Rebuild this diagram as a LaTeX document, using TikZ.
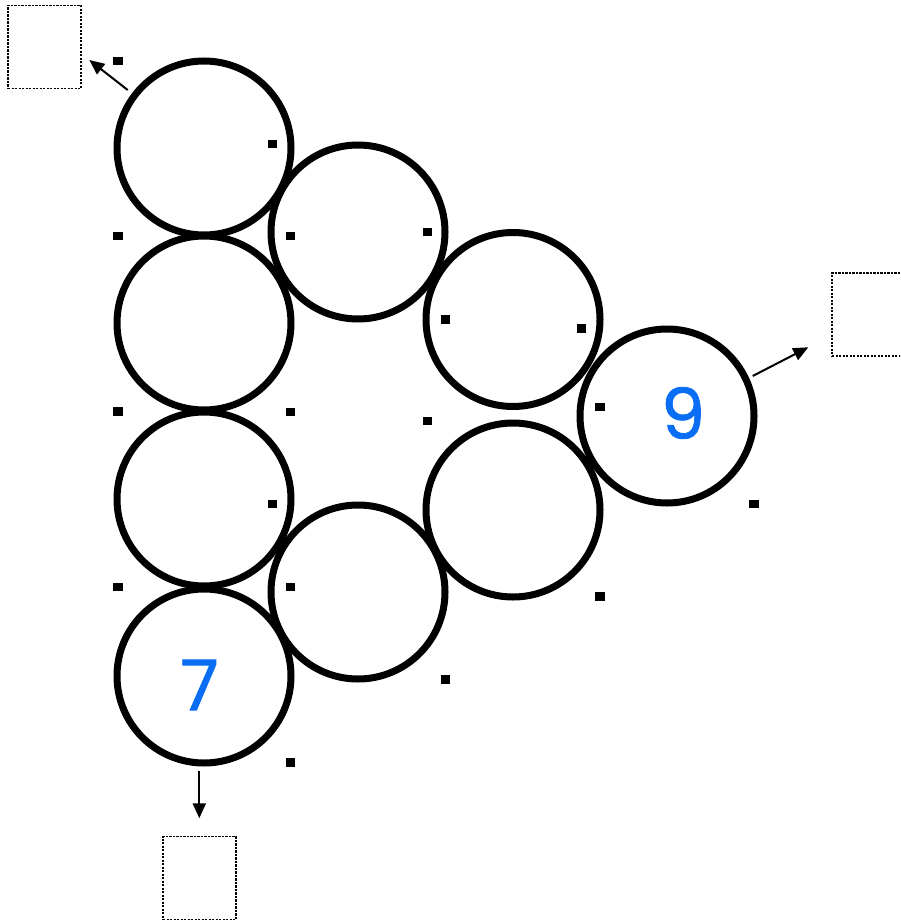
\documentclass[tikz,border=0pt]{standalone}
\usepackage{fontspec}
\newfontfamily\digitfont[FakeBold=1.2]{Poppins}
\usetikzlibrary{arrows.meta}
\definecolor{digitblue}{RGB}{10,110,245}
\begin{document}
\begin{tikzpicture}[x=1pt,y=-1pt,
  ring/.style={circle,draw,line width=7pt,minimum size=174pt,inner sep=0pt},
  dotmark/.style={rectangle,fill=black,minimum width=9.5pt,minimum height=8.5pt,inner sep=0pt},
  answerbox/.style={rectangle,draw,line width=1.8pt,dash pattern=on 2.4pt off 1.1pt,minimum width=73pt,minimum height=83pt,inner sep=0pt},
  pointer/.style={line width=2pt,-{Triangle[length=15pt,width=13pt]}},
  digit/.style={text=digitblue,font=\digitfont\fontsize{70}{70}\selectfont,inner sep=0pt}]
\useasboundingbox (0,0) rectangle (900,923);
\clip (0,0) rectangle (900,923);
% circles
\node[ring] (c1) at (204,148) {};
\node[ring] (c2) at (358,232) {};
\node[ring] (c3) at (513,319.5) {};
\node[ring] (c4) at (667,416) {};
\node[ring] (c5) at (204,323) {};
\node[ring] (c6) at (204,499) {};
\node[ring] (c7) at (204,676) {};
\node[ring] (c8) at (358,592) {};
\node[ring] (c9) at (513,510) {};
% digits
\node[digit] (n9) at (683,413) {9};
\node[digit] (n7) at (199.5,685) {7};
% dots
\node[dotmark] (d1) at (118,61) {};
\node[dotmark] (d2) at (272.5,144) {};
\node[dotmark] (d3) at (118,236) {};
\node[dotmark] (d4) at (290.5,236) {};
\node[dotmark] (d5) at (427.3,232) {};
\node[dotmark] (d6) at (445.5,319.5) {};
\node[dotmark] (d7) at (581.3,328.3) {};
\node[dotmark] (d8) at (118,411.5) {};
\node[dotmark] (d9) at (290.5,412) {};
\node[dotmark] (d10) at (427.3,421) {};
\node[dotmark] (d11) at (600,407) {};
\node[dotmark] (d12) at (754,504) {};
\node[dotmark] (d13) at (272.5,504) {};
\node[dotmark] (d14) at (118,587) {};
\node[dotmark] (d15) at (290.5,587) {};
\node[dotmark] (d16) at (600,596.5) {};
\node[dotmark] (d17) at (445.5,679.5) {};
\node[dotmark] (d18) at (290.5,762.5) {};
% boxes
\node[answerbox] (b1) at (44.5,47) {};
\node[answerbox] (b2) at (868.5,314.5) {};
\node[answerbox] (b3) at (199.5,878) {};
% arrows
\coordinate (s1) at (127.7,90);
\coordinate (t1) at (89.3,60);
\coordinate (s2) at (752.7,376);
\coordinate (t2) at (808.3,347.3);
\coordinate (s3) at (199.3,770.7);
\coordinate (t3) at (199.3,818.3);
\draw[pointer] (s1) -- (t1);
\draw[pointer] (s2) -- (t2);
\draw[pointer] (s3) -- (t3);
\end{tikzpicture}
\end{document}
